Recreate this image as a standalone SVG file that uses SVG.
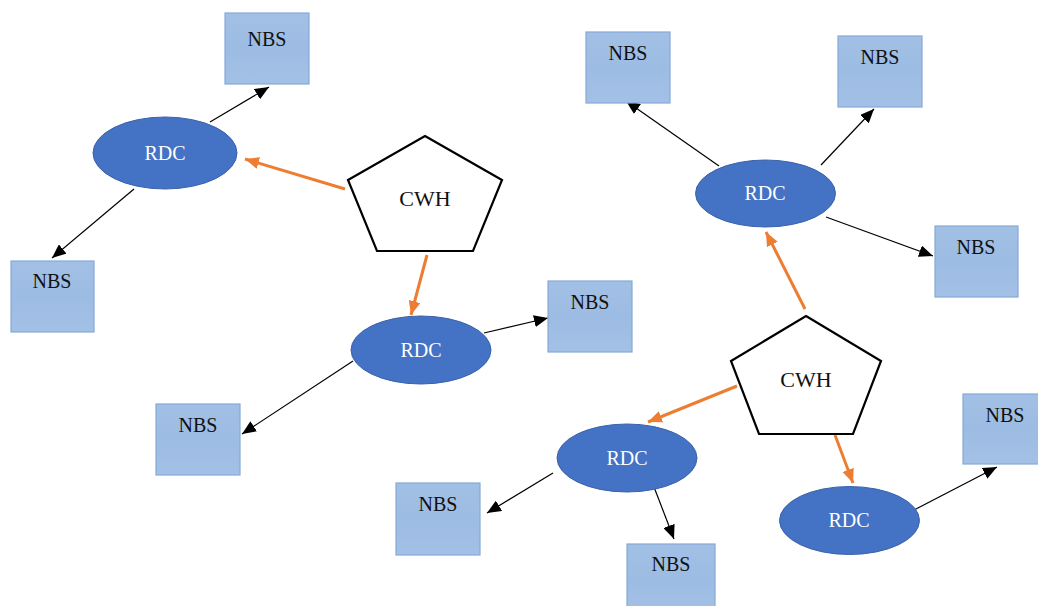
<svg xmlns="http://www.w3.org/2000/svg" width="1038" height="606" viewBox="0 0 1038 606">
<style>
.nbs rect{fill:url(#nbsGrad);stroke:#86a9d6;stroke-width:1.2}
.nbs text{font-family:"Liberation Serif","Times New Roman",serif;font-size:20px;fill:#111;text-anchor:middle}
.rdc ellipse{fill:#4472c4;stroke:#3a62aa;stroke-width:1}
.rdc text{font-family:"Liberation Serif","Times New Roman",serif;font-size:20px;fill:#fff;text-anchor:middle}
.cwh polygon{fill:#fff;stroke:#000;stroke-width:2.2;stroke-linejoin:miter}
.cwh text{font-family:"Liberation Serif","Times New Roman",serif;font-size:22px;fill:#111;text-anchor:middle}
.blk{stroke:#000;stroke-width:1.2;fill:none;marker-end:url(#ah)}
.org{stroke:#ed7d31;stroke-width:3;fill:none;marker-end:url(#ao)}
</style>
<defs>
<linearGradient id="nbsGrad" x1="0" y1="0" x2="0" y2="1">
<stop offset="0" stop-color="#a2c0e5"/>
<stop offset="0.5" stop-color="#9dbce3"/>
<stop offset="1" stop-color="#a3c1e6"/>
</linearGradient>
<marker id="ah" markerUnits="userSpaceOnUse" markerWidth="14" markerHeight="12" refX="14" refY="6" orient="auto">
<path d="M0,0 L14,6 L0,12 z" fill="#000"/>
</marker>
<marker id="ao" markerUnits="userSpaceOnUse" markerWidth="14" markerHeight="12" refX="14" refY="6" orient="auto">
<path d="M0,0 L14,6 L0,12 z" fill="#ed7d31"/>
</marker>
</defs>
<rect width="1038" height="606" fill="#fff"/>
<g id="connectors">
<line class="blk" x1="210" y1="122" x2="269" y2="87"/>
<line class="blk" x1="134" y1="189" x2="52" y2="258"/>
<line class="org" x1="345" y1="189" x2="245" y2="159"/>
<line class="org" x1="427" y1="255" x2="411" y2="315"/>
<line class="blk" x1="484" y1="333" x2="548" y2="318"/>
<line class="blk" x1="353" y1="361" x2="242" y2="434"/>
<line class="blk" x1="719" y1="166" x2="626" y2="101"/>
<line class="blk" x1="821" y1="165" x2="874" y2="109"/>
<line class="blk" x1="826" y1="217" x2="933" y2="256"/>
<line class="org" x1="805" y1="309" x2="766" y2="232"/>
<line class="org" x1="737" y1="386" x2="648" y2="422"/>
<line class="org" x1="835" y1="435" x2="853" y2="483"/>
<line class="blk" x1="654" y1="487" x2="674" y2="539"/>
<line class="blk" x1="553" y1="473" x2="487" y2="513"/>
<line class="blk" x1="914" y1="510" x2="997" y2="467"/>
</g>
<g id="nbs1" class="nbs"><rect x="225" y="13" width="84" height="71"/><text x="267" y="46">NBS</text></g>
<g id="nbs2" class="nbs"><rect x="11" y="261" width="83" height="71"/><text x="52" y="288">NBS</text></g>
<g id="nbs3" class="nbs"><rect x="548" y="281" width="84" height="71"/><text x="590" y="309">NBS</text></g>
<g id="nbs4" class="nbs"><rect x="156" y="404" width="84" height="71"/><text x="198" y="432">NBS</text></g>
<g id="nbs5" class="nbs"><rect x="396" y="483" width="84" height="72"/><text x="438" y="511">NBS</text></g>
<g id="nbs6" class="nbs"><rect x="586" y="32" width="84" height="71"/><text x="628" y="60">NBS</text></g>
<g id="nbs7" class="nbs"><rect x="838" y="36" width="84" height="71"/><text x="880" y="64">NBS</text></g>
<g id="nbs8" class="nbs"><rect x="935" y="226" width="83" height="71"/><text x="976" y="254">NBS</text></g>
<g id="nbs9" class="nbs"><rect x="963" y="394" width="84" height="70"/><text x="1005" y="422">NBS</text></g>
<g id="nbs10" class="nbs"><rect x="627" y="544" width="88" height="70"/><text x="671" y="571">NBS</text></g>
<g id="rdc1" class="rdc"><ellipse cx="165" cy="153" rx="72" ry="36"/><text x="165" y="160">RDC</text></g>
<g id="rdc2" class="rdc"><ellipse cx="421" cy="350" rx="70" ry="34"/><text x="421" y="357">RDC</text></g>
<g id="rdc3" class="rdc"><ellipse cx="765.5" cy="193.5" rx="70" ry="33.5"/><text x="765" y="200">RDC</text></g>
<g id="rdc4" class="rdc"><ellipse cx="627" cy="458" rx="70" ry="34"/><text x="627" y="465">RDC</text></g>
<g id="rdc5" class="rdc"><ellipse cx="849.5" cy="520.5" rx="70" ry="34"/><text x="849" y="527">RDC</text></g>
<g id="cwh1" class="cwh"><polygon points="425,136 502,180 473,251 377,251 348,180"/><text x="425" y="206">CWH</text></g>
<g id="cwh2" class="cwh"><polygon points="806,316 881,361 853,434 759,434 731,361"/><text x="806" y="387">CWH</text></g>
</svg>
